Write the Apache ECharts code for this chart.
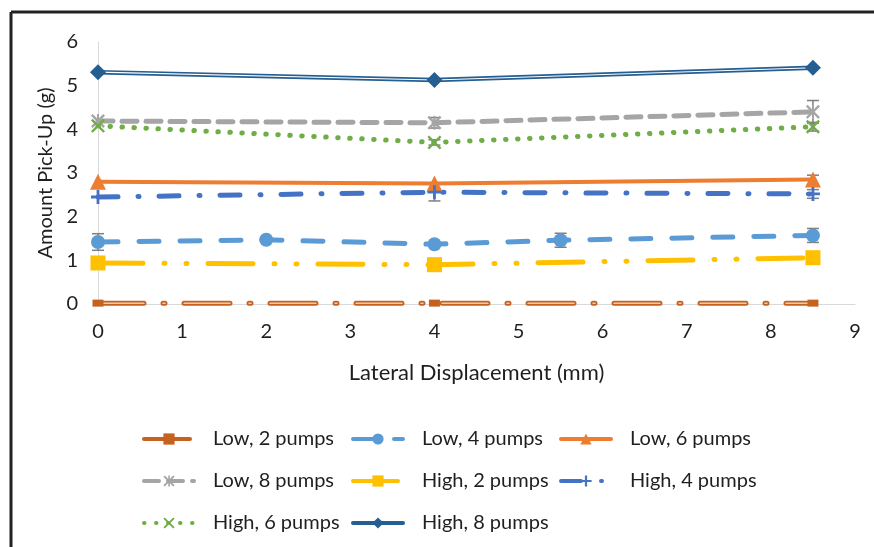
<!DOCTYPE html>
<html>
<head>
<meta charset="utf-8">
<script src="https://cdn.jsdelivr.net/npm/echarts@6/dist/echarts.min.js"></script>
<style>
  html, body { margin: 0; padding: 0; background: #fff; }
  #chart { width: 874px; height: 547px; }
</style>
</head>
<body>
<div id="chart"></div>
<script>
// x positions (mm)
const xMain = [0, 4, 8.5]
const xLow4 = [0, 2, 4, 5.5, 8.5]

const low2 = [0.02, 0.02, 0.02]
const low4 = [1.42, 1.47, 1.37, 1.46, 1.57]
const low6 = [2.80, 2.76, 2.85]
const low8 = [4.19, 4.15, 4.40]
const high2 = [0.94, 0.90, 1.06]
const high4 = [2.45, 2.56, 2.52]
const high6 = [4.08, 3.70, 4.06]
const high8 = [5.31, 5.13, 5.41]

// error bars: [x, mean, delta]
const errorBars = [
  [0, 1.42, 0.19], [5.5, 1.46, 0.16], [8.5, 1.57, 0.16],
  [4, 4.15, 0.12], [8.5, 4.40, 0.26],
  [4, 2.56, 0.2], [8.5, 2.52, 0.1],
  [8.5, 2.85, 0.1],
  [4, 0.90, 0.14],
  [4, 3.70, 0.06], [8.5, 4.06, 0.1]
]

const xTicks = [0, 9, 1]
const yTicks = [0, 6, 1]

const font = 'Lato, "Open Sans", sans-serif'
const txt = '#1f1f1f'
const pair = (xs, ys) => xs.map((x, i) => [x, ys[i]])

const plusPath = 'path://M4,0H6V4H10V6H6V10H4V6H0V4H4Z'
const xPath = 'path://M0,1.2L1.2,0L5,3.8L8.8,0L10,1.2L6.2,5L10,8.8L8.8,10L5,6.2L1.2,10L0,8.8L3.8,5Z'
const starPath = 'path://M0,1.2L1.2,0L5,3.8L8.8,0L10,1.2L6.2,5L10,8.8L8.8,10L5,6.2L1.2,10L0,8.8L3.8,5Z M4.3,0H5.7V10H4.3Z'

const lineSeries = (name, data, color, width, type, symbol, size, extra) => Object.assign({
  name, type: 'line', data, symbol, symbolSize: size, showAllSymbol: true,
  lineStyle: { color, width, type, cap: 'round' },
  itemStyle: { color },
  emphasis: { disabled: true },
  animation: false
}, extra || {})

const legendBase = {
  top: 423, orient: 'vertical', itemWidth: 50, itemHeight: 14, itemGap: 20,
  lineStyle: { width: 4 },
  textStyle: { fontSize: 20, color: txt, lineHeight: 22, padding: [0, 0, 0, 14] }
}

const chart = echarts.init(document.getElementById('chart'))
chart.setOption({
  backgroundColor: '#fff',
  textStyle: { fontFamily: font },
  grid: { left: 98, right: 19, top: 42, bottom: 243 },
  xAxis: {
    type: 'value', min: xTicks[0], max: xTicks[1], interval: xTicks[2],
    name: 'Lateral Displacement (mm)', nameLocation: 'middle', nameGap: 58,
    nameTextStyle: { fontSize: 22, color: txt, fontFamily: font },
    axisLine: { show: true, lineStyle: { color: '#d9d9d9', width: 1 } },
    axisTick: { show: false },
    axisLabel: { fontSize: 20, color: txt, margin: 18 },
    splitLine: { show: false }
  },
  yAxis: {
    type: 'value', min: yTicks[0], max: yTicks[1], interval: yTicks[2],
    name: 'Amount Pick-Up (g)', nameLocation: 'middle', nameGap: 42,
    nameTextStyle: { fontSize: 20, color: txt, fontFamily: font },
    axisLine: { show: true, lineStyle: { color: '#d9d9d9', width: 1 } },
    axisTick: { show: false },
    axisLabel: { fontSize: 20, color: txt, margin: 20 },
    splitLine: { show: false }
  },
  legend: [
    Object.assign({ left: 137, data: ['Low, 2 pumps', 'Low, 8 pumps', 'High, 6 pumps'] }, legendBase),
    Object.assign({ left: 346, data: ['Low, 4 pumps', 'High, 2 pumps', 'High, 8 pumps'] }, legendBase),
    Object.assign({ left: 554, data: ['Low, 6 pumps', 'High, 4 pumps'] }, legendBase)
  ],
  graphic: [
    { type: 'line', shape: { x1: 11, y1: 12, x2: 11, y2: 547 }, style: { stroke: '#222', lineWidth: 3 } },
    { type: 'line', shape: { x1: 11, y1: 12, x2: 874, y2: 12 }, style: { stroke: '#222', lineWidth: 3 } }
  ],
  series: [
    {
      name: 'errors', type: 'custom', z: 1, animation: false,
      data: errorBars,
      renderItem: (params, api) => {
        const x = api.value(0), m = api.value(1), d = api.value(2)
        const top = api.coord([x, m + d]), bot = api.coord([x, m - d])
        const style = { stroke: '#7f7f7f', lineWidth: 1.5 }
        return {
          type: 'group',
          children: [
            { type: 'line', shape: { x1: top[0], y1: top[1], x2: bot[0], y2: bot[1] }, style },
            { type: 'line', shape: { x1: top[0] - 6, y1: top[1], x2: top[0] + 6, y2: top[1] }, style },
            { type: 'line', shape: { x1: bot[0] - 6, y1: bot[1], x2: bot[0] + 6, y2: bot[1] }, style }
          ]
        }
      }
    },
    lineSeries('Low, 2 pumps', pair(xMain, low2), '#c5621f', 5, [46, 19, 2, 19], 'rect', [11, 7]),
    lineSeries('low2-inner', pair(xMain, low2), '#f2c9a8', 1.5, [46, 19, 2, 19], 'none', 0, { legendHoverLink: false }),
    lineSeries('Low, 4 pumps', pair(xLow4, low4), '#5b9bd5', 5, [20, 21], 'circle', 14),
    lineSeries('Low, 6 pumps', pair(xMain, low6), '#ed7d31', 4, 'solid', 'triangle', 16),
    lineSeries('Low, 8 pumps', pair(xMain, low8), '#a5a5a5', 5, [15, 9], starPath, 14),
    lineSeries('High, 2 pumps', pair(xMain, high2), '#ffc000', 5, [45, 21, 1, 21, 1, 21], 'rect', 15),
    lineSeries('High, 4 pumps', pair(xMain, high4), '#4472c4', 5, [20, 20, 1, 20], plusPath, 14),
    lineSeries('High, 6 pumps', pair(xMain, high6), '#70ad47', 5, [0.5, 11.5], xPath, 14),
    lineSeries('High, 8 pumps', pair(xMain, high8), '#255e91', 4.5, 'solid', 'diamond', 16),
    lineSeries('high8-inner', pair(xMain, high8), '#ffffff', 1.2, 'solid', 'none', 0, { legendHoverLink: false })
  ]
})
</script>
</body>
</html>
